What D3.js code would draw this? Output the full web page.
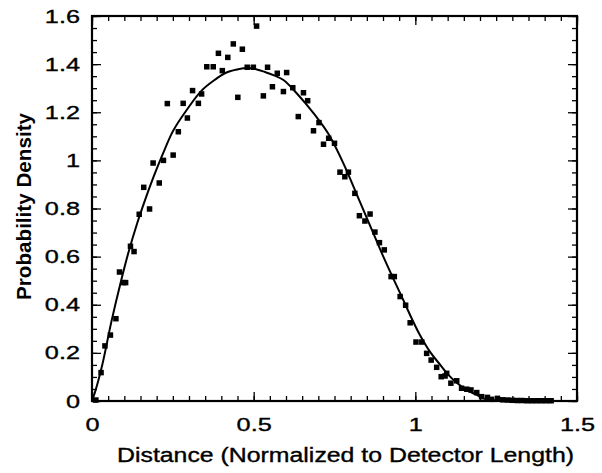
<!DOCTYPE html>
<html>
<head>
<meta charset="utf-8">
<script src="https://cdn.jsdelivr.net/npm/d3@7"></script>
<style>
  html, body { margin: 0; padding: 0; background: #fff; }
  svg { display: block; }
  text { font-family: "Liberation Sans", Arial, Helvetica, sans-serif; fill: #000; }
</style>
</head>
<body>
<svg id="chart" width="602" height="473"></svg>
<script>
// ---- data ----
const xTickLabels = [0, 0.5, 1, 1.5];
const yTickLabels = [0, 0.2, 0.4, 0.6, 0.8, 1, 1.2, 1.4, 1.6];
const xLabel = "Distance (Normalized to Detector Length)";
const yLabel = "Probability Density";

const pointX = [0.012,0.028,0.040,0.057,0.074,0.085,0.097,0.104,0.119,0.130,0.146,0.160,0.178,0.189,0.208,0.221,0.233,0.251,0.267,0.282,0.295,0.311,0.329,0.339,0.355,0.375,0.391,0.403,0.420,0.437,0.451,0.465,0.480,0.499,0.509,0.530,0.543,0.558,0.573,0.592,0.602,0.621,0.638,0.654,0.667,0.685,0.702,0.716,0.732,0.750,0.767,0.782,0.793,0.813,0.827,0.844,0.860,0.875,0.889,0.904,0.925,0.935,0.953,0.970,0.984,1.002,1.020,1.035,1.049,1.066,1.080,1.092,1.097,1.110,1.128,1.143,1.159,1.172,1.190,1.205,1.223,1.236,1.254,1.270,1.285,1.300,1.315,1.330,1.345,1.360,1.375,1.390,1.405,1.420];
const pointY = [0.004,0.118,0.229,0.274,0.342,0.536,0.492,0.492,0.643,0.621,0.776,0.888,0.798,0.989,0.906,1.000,1.236,1.022,1.119,1.237,1.176,1.290,1.237,1.276,1.389,1.389,1.445,1.373,1.428,1.484,1.262,1.462,1.387,1.387,1.558,1.268,1.387,1.306,1.362,1.286,1.365,1.302,1.182,1.281,1.248,1.123,1.157,1.067,1.092,1.071,0.951,0.932,0.951,0.863,0.770,0.748,0.777,0.702,0.658,0.628,0.517,0.517,0.434,0.398,0.325,0.245,0.245,0.198,0.170,0.140,0.101,0.104,0.115,0.074,0.084,0.053,0.049,0.046,0.035,0.018,0.015,0.007,0.011,0.005,0.004,0.003,0.002,0.002,0.001,0.001,0.001,0.001,0.001,0.001];

const curveX = [0,0.01,0.03,0.06,0.09,0.112,0.14,0.164,0.19,0.22,0.246,0.288,0.339,0.38,0.411,0.45,0.48,0.51,0.535,0.565,0.592,0.633,0.685,0.736,0.78,0.824,0.86,0.901,0.953,1.015,1.045,1.076,1.10,1.13,1.159,1.19,1.21,1.25,1.3];
const curveY = [0,0.04,0.14,0.33,0.50,0.614,0.74,0.835,0.93,1.03,1.11,1.20,1.29,1.335,1.362,1.378,1.384,1.378,1.367,1.352,1.334,1.279,1.196,1.099,0.98,0.842,0.729,0.600,0.448,0.272,0.205,0.152,0.112,0.074,0.046,0.025,0.011,0.002,0];

// ---- chart ----
const svg = d3.select("#chart");
const x = d3.scaleLinear().domain([0, 1.5]).range([92, 577]);
const y = d3.scaleLinear().domain([0, 1.6]).range([401, 16]);

const xMinor = d3.range(0, 31).map(i => +(i * 0.05).toFixed(2));
const yMinor = d3.range(0, 33).map(i => +(i * 0.05).toFixed(2));
const STRETCH = 1.33;

function clean(g) { g.select(".domain").remove(); g.selectAll("line").attr("stroke", "#000").attr("stroke-width", 1.3); }

// minor ticks (all four sides)
svg.append("g").attr("transform", `translate(0,${y(0)})`)
  .call(d3.axisBottom(x).tickValues(xMinor).tickSize(-5).tickFormat("")).call(clean);
svg.append("g").attr("transform", `translate(0,${y(1.6)})`)
  .call(d3.axisTop(x).tickValues(xMinor).tickSize(-5).tickFormat("")).call(clean);
svg.append("g").attr("transform", `translate(${x(0)},0)`)
  .call(d3.axisLeft(y).tickValues(yMinor).tickSize(-5).tickFormat("")).call(clean);
svg.append("g").attr("transform", `translate(${x(1.5)},0)`)
  .call(d3.axisRight(y).tickValues(yMinor).tickSize(-5).tickFormat("")).call(clean);

// major ticks with labels
const gx = svg.append("g").attr("transform", `translate(0,${y(0)})`)
  .call(d3.axisBottom(x).tickValues(xTickLabels).tickSize(-9).tickPadding(17).tickFormat(d3.format("")));
gx.call(clean);
const gy = svg.append("g").attr("transform", `translate(${x(0)},0)`)
  .call(d3.axisLeft(y).tickValues(yTickLabels).tickSize(-9).tickPadding(12).tickFormat(d3.format("")));
gy.call(clean);
svg.append("g").attr("transform", `translate(0,${y(1.6)})`)
  .call(d3.axisTop(x).tickValues(xTickLabels).tickSize(-9).tickFormat("")).call(clean);
svg.append("g").attr("transform", `translate(${x(1.5)},0)`)
  .call(d3.axisRight(y).tickValues(yTickLabels).tickSize(-9).tickFormat("")).call(clean);

svg.selectAll("g text").attr("font-size", 19).attr("font-family", '"Liberation Sans", Arial, sans-serif')
  .attr("fill", "#000").attr("stroke", "#000").attr("stroke-width", 0.35)
  .each(function() {
    const w = this.getComputedTextLength();
    d3.select(this).attr("textLength", w * STRETCH).attr("lengthAdjust", "spacingAndGlyphs");
  });

// frame
svg.append("rect").attr("x", x(0)).attr("y", y(1.6))
  .attr("width", x(1.5) - x(0)).attr("height", y(0) - y(1.6))
  .attr("fill", "none").attr("stroke", "#000").attr("stroke-width", 2.2);

// fitted curve
const curveData = curveX.map((d, i) => [d, curveY[i]]);
svg.append("path").datum(curveData)
  .attr("d", d3.line().x(d => x(d[0])).y(d => y(d[1])).curve(d3.curveMonotoneX))
  .attr("fill", "none").attr("stroke", "#000").attr("stroke-width", 2);

// data points
const S = 5.5;
const pts = pointX.map((d, i) => [d, pointY[i]]);
svg.append("g").selectAll("rect").data(pts).join("rect")
  .attr("x", d => x(d[0]) - S / 2).attr("y", d => y(d[1]) - S / 2)
  .attr("width", S).attr("height", S).attr("fill", "#000");

// axis titles
svg.append("text").attr("x", 117).attr("y", 462)
  .attr("font-size", 19.5).attr("textLength", 457).attr("lengthAdjust", "spacingAndGlyphs")
  .attr("stroke", "#000").attr("stroke-width", 0.35)
  .text(xLabel);
svg.append("text").attr("transform", "translate(31,206.5) rotate(-90)")
  .attr("text-anchor", "middle").attr("font-size", 20.5).attr("font-weight", "bold")
  .attr("textLength", 187).attr("lengthAdjust", "spacingAndGlyphs")
  .text(yLabel);
</script>
</body>
</html>
